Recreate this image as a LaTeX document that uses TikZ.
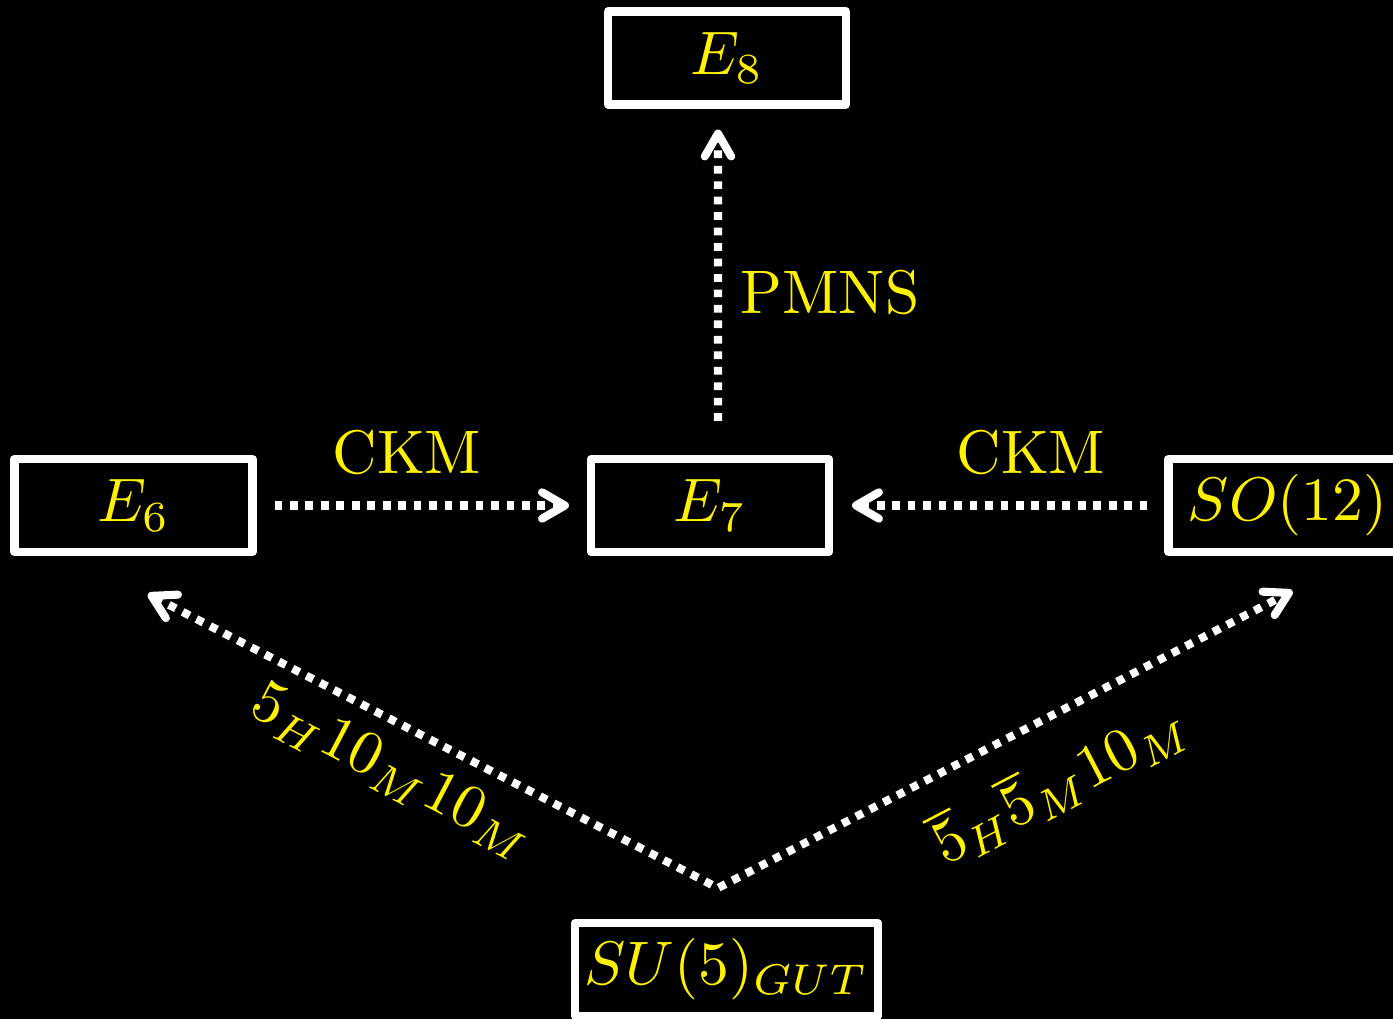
\documentclass[tikz,border=0pt]{standalone}
\usepackage{amsmath,amssymb}
\usepackage{xcolor}
\usetikzlibrary{arrows.meta}
\newcommand{\bigtx}[1]{\scalebox{1.75}{#1}}

\begin{document}
\begin{tikzpicture}[
    grp/.style={draw=white, fill=black, line width=2.3pt, line join=round,
      minimum width=2.38cm, minimum height=0.93cm, inner sep=0pt, text=yellow},
    flow/.style={white, line width=2.3pt, dash pattern=on 2.2pt off 2.2pt},
    tip/.style={-{Straight Barb[length=6.5pt,width=7.5pt,round]}},
    lbl/.style={text=yellow, inner sep=0pt}
  ]
       \clip (0,0) rectangle (13.93,10.19);
       \fill[black] (0,0) rectangle (13.93,10.19);

       \node[grp] (e8) at (7.27,9.61) {\bigtx{$E_8$}};
       \node[grp] (e6) at (1.335,5.135) {\bigtx{$E_6$}};
       \node[grp] (e7) at (7.10,5.135) {\bigtx{$E_7$}};
       \node[grp] (so12) at (12.875,5.135) {\bigtx{$SO(12)$}};
       \node[grp, minimum width=3.03cm] (su5) at (7.265,0.495) {\bigtx{$SU(5)_{GUT}$}};
       \coordinate (apex) at (7.18,1.31);

       \node[lbl, anchor=base] (ckml) at (4.07,5.45) {\bigtx{CKM}};
       \node[lbl, anchor=base] (ckmr) at (10.31,5.45) {\bigtx{CKM}};
       \node[lbl, anchor=base west] (pmns) at (7.40,7.05) {\bigtx{PMNS}};
       \node[lbl, rotate=-27.6] (lowlbl) at (3.92,2.47) {\bigtx{$5_H10_M10_M$}};
       \node[lbl, rotate=27.6] (uplbl) at (10.59,2.37) {\bigtx{$\overline{5}_H\overline{5}_M10_M$}};

       \draw [flow, tip, shorten <=0.18cm, shorten >=0.18cm] (e6.east) -- (e7.west);
       \draw [flow, tip, shorten <=0.17cm, shorten >=0.19cm] (so12.west) -- (e7.east);
       \draw [flow, tip] ([xshift=0.08cm,yshift=0.34cm]e7.north) -- ([xshift=-0.09cm,yshift=-0.21cm]e8.south);
       \draw [flow, {Straight Barb[length=6.5pt,width=7.5pt,round]}-{Straight Barb[length=6.5pt,width=7.5pt,round]}]
              ([xshift=0.145cm,yshift=-0.38cm]e6.south) -- (apex) -- ([xshift=0.05cm,yshift=-0.35cm]so12.south);
\end{tikzpicture}
\end{document}
